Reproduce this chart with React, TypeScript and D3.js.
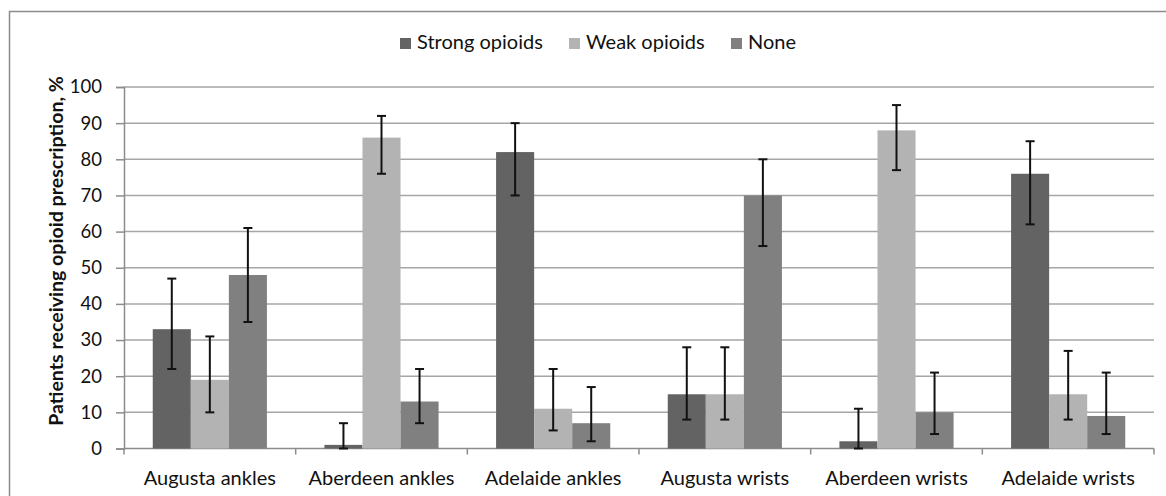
import React, { useEffect, useRef } from "react";
import * as d3 from "d3";

// chart data
const categories = [
  "Augusta ankles",
  "Aberdeen ankles",
  "Adelaide ankles",
  "Augusta wrists",
  "Aberdeen wrists",
  "Adelaide wrists",
];
const seriesNames = ["Strong opioids", "Weak opioids", "None"];
const strongValues = [33, 1, 82, 15, 2, 76];
const strongLow = [22, 0, 70, 8, 0, 62];
const strongHigh = [47, 7, 90, 28, 11, 85];
const weakValues = [19, 86, 11, 15, 88, 15];
const weakLow = [10, 76, 5, 8, 77, 8];
const weakHigh = [31, 92, 22, 28, 95, 27];
const noneValues = [48, 13, 7, 70, 10, 9];
const noneLow = [35, 7, 2, 56, 4, 4];
const noneHigh = [61, 22, 17, 80, 21, 21];
const yTicks = [0, 10, 20, 30, 40, 50, 60, 70, 80, 90, 100];

const colors = ["#636363", "#b3b3b3", "#808080"];

const App: React.FC = () => {
  const svgRef = useRef<SVGSVGElement | null>(null);

  useEffect(() => {
    if (!svgRef.current) return;
    const width = 1166;
    const height = 496;
    const margin = { top: 87, right: 12, bottom: 47.5, left: 124 };
    const innerWidth = width - margin.left - margin.right;
    const innerHeight = height - margin.top - margin.bottom;
    const font = "Lato, 'Open Sans', sans-serif";

    d3.select(svgRef.current).selectAll("*").remove();
    const root = d3.select(svgRef.current);

    // outer frame
    root
      .append("rect")
      .attr("x", 9.5)
      .attr("y", 11.5)
      .attr("width", width + 20)
      .attr("height", height + 20)
      .attr("fill", "white")
      .attr("stroke", "#8c8c8c")
      .attr("stroke-width", 1.5);

    const svg = root
      .append("g")
      .attr("transform", `translate(${margin.left},${margin.top})`);

    const series = [
      { name: seriesNames[0], values: strongValues, low: strongLow, high: strongHigh },
      { name: seriesNames[1], values: weakValues, low: weakLow, high: weakHigh },
      { name: seriesNames[2], values: noneValues, low: noneLow, high: noneHigh },
    ];

    const x0 = d3
      .scaleBand<string>()
      .domain(categories)
      .range([0, innerWidth])
      .paddingInner(0.335)
      .paddingOuter(0.1675);
    const x1 = d3
      .scaleBand<string>()
      .domain(seriesNames)
      .range([0, x0.bandwidth()]);
    const y = d3.scaleLinear().domain([0, 100]).range([innerHeight, 0]);

    // gridlines
    svg
      .selectAll(".grid")
      .data(yTicks.filter((t) => t > 0))
      .enter()
      .append("line")
      .attr("x1", 0)
      .attr("x2", innerWidth)
      .attr("y1", (d) => y(d))
      .attr("y2", (d) => y(d))
      .attr("stroke", "#a6a6a6")
      .attr("stroke-width", 1.5);

    // y axis
    const yAxis = svg
      .append("g")
      .call(d3.axisLeft(y).tickValues(yTicks).tickSize(8).tickPadding(14));
    yAxis.select(".domain").attr("stroke", "#8c8c8c").attr("stroke-width", 1.5);
    yAxis.selectAll(".tick line").attr("stroke", "#8c8c8c").attr("stroke-width", 1.5);
    yAxis
      .selectAll(".tick text")
      .attr("font-family", font)
      .attr("font-size", "18.5px")
      .attr("fill", "#111");

    // x axis with ticks on category boundaries
    const xAxis = svg.append("g").attr("transform", `translate(0,${innerHeight})`);
    xAxis
      .append("line")
      .attr("x1", 0)
      .attr("x2", innerWidth)
      .attr("stroke", "#8c8c8c")
      .attr("stroke-width", 1.5);
    const step = innerWidth / categories.length;
    xAxis
      .selectAll(".xtick")
      .data(d3.range(categories.length + 1))
      .enter()
      .append("line")
      .attr("x1", (i) => i * step)
      .attr("x2", (i) => i * step)
      .attr("y1", 0)
      .attr("y2", 6)
      .attr("stroke", "#8c8c8c")
      .attr("stroke-width", 1.5);
    xAxis
      .selectAll(".xlabel")
      .data(categories)
      .enter()
      .append("text")
      .attr("x", (d) => (x0(d) || 0) + x0.bandwidth() / 2)
      .attr("y", 36)
      .attr("text-anchor", "middle")
      .attr("font-family", font)
      .attr("font-size", "20px")
      .attr("fill", "#111")
      .text((d) => d);

    // bars
    series.forEach((s, si) => {
      const g = svg.append("g");
      g.selectAll("rect")
        .data(categories)
        .enter()
        .append("rect")
        .attr("x", (c) => (x0(c) || 0) + (x1(s.name) || 0))
        .attr("y", (_, i) => y(s.values[i]))
        .attr("width", x1.bandwidth())
        .attr("height", (_, i) => innerHeight - y(s.values[i]))
        .attr("fill", colors[si]);
    });

    // error bars on top
    series.forEach((s) => {
      const g = svg.append("g");
      categories.forEach((c, i) => {
        const cx = (x0(c) || 0) + (x1(s.name) || 0) + x1.bandwidth() / 2;
        g.append("line")
          .attr("x1", cx)
          .attr("x2", cx)
          .attr("y1", y(s.low[i]))
          .attr("y2", y(s.high[i]))
          .attr("stroke", "#111")
          .attr("stroke-width", 2);
        [s.low[i], s.high[i]].forEach((v) => {
          g.append("line")
            .attr("x1", cx - 4.5)
            .attr("x2", cx + 4.5)
            .attr("y1", y(v))
            .attr("y2", y(v))
            .attr("stroke", "#111")
            .attr("stroke-width", 2);
        });
      });
    });

    // y axis title
    root
      .append("text")
      .attr("transform", "translate(63,251) rotate(-90)")
      .attr("text-anchor", "middle")
      .attr("font-family", font)
      .attr("font-weight", "bold")
      .attr("font-size", "19.6px")
      .attr("fill", "#111")
      .text("Patients receiving opioid prescription, %");

    // legend
    const legendX = [400, 569, 731];
    const legend = root.append("g");
    seriesNames.forEach((n, i) => {
      legend
        .append("rect")
        .attr("x", legendX[i])
        .attr("y", 38)
        .attr("width", 11)
        .attr("height", 11)
        .attr("fill", colors[i]);
      legend
        .append("text")
        .attr("x", legendX[i] + 17)
        .attr("y", 49)
        .attr("font-family", font)
        .attr("font-size", "20px")
        .attr("fill", "#111")
        .text(n);
    });
  }, []);

  return (
    <svg
      ref={svgRef}
      width={1166}
      height={496}
      style={{ position: "absolute", left: 0, top: 0 }}
    />
  );
};

export default App;
